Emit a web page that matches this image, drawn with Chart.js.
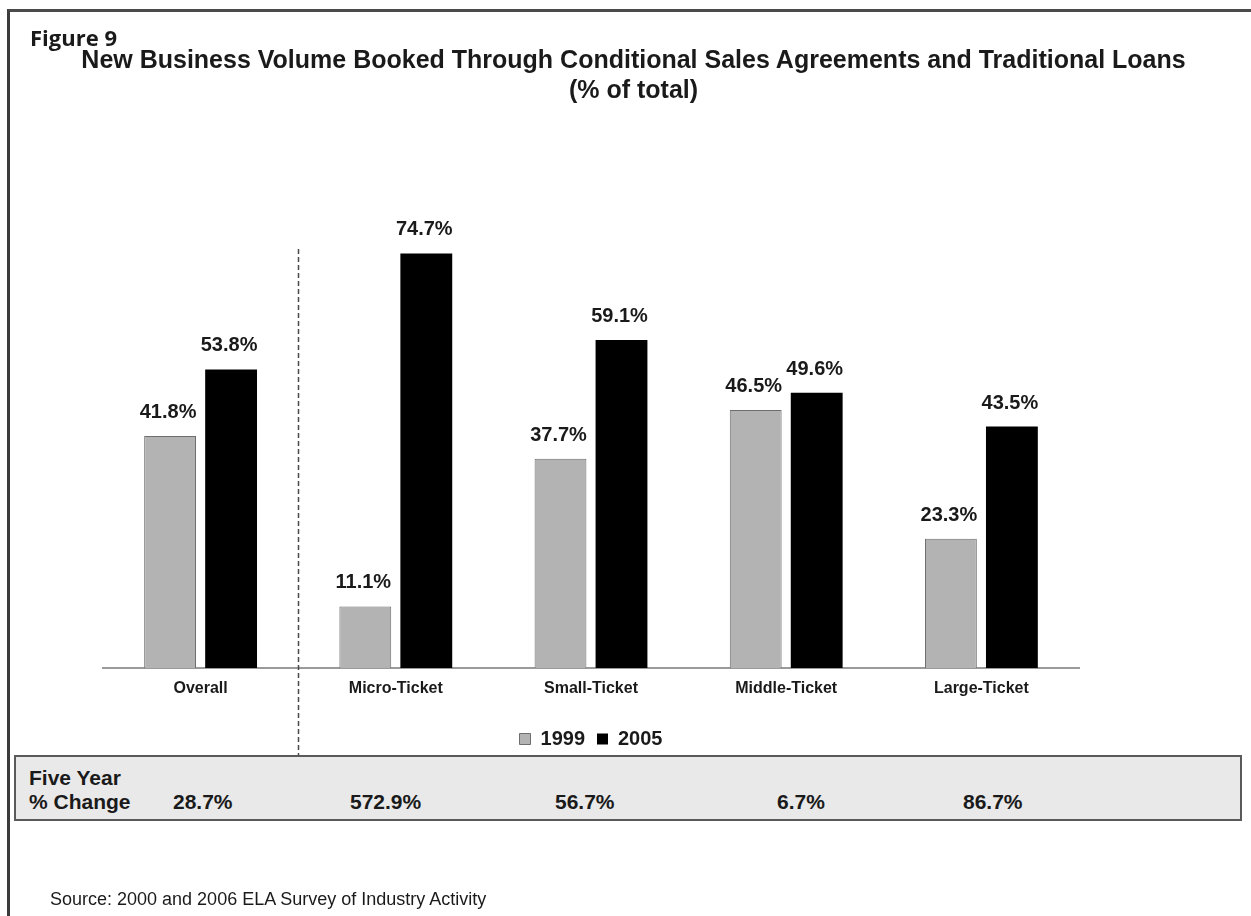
<!DOCTYPE html>
<html>
<head>
<meta charset="utf-8">
<title>Figure 9</title>
<script src="https://cdn.jsdelivr.net/npm/chart.js@4.4.1/dist/chart.umd.min.js"></script>
<style>
  html, body { margin: 0; padding: 0; background: #fff; }
  body { width: 1251px; height: 916px; position: relative; overflow: hidden;
         font-family: "Liberation Sans", Arial, sans-serif; color: #1a1a1a; }
  #frame { position: absolute; left: 7px; top: 9px; width: 1400px; height: 1000px;
           border-left: 3px solid #3c3c3c; border-top: 3px solid #4a4a4a; }
  #chart { position: absolute; left: 0; top: 0; }
  #fig { position: absolute; left: 30px; top: 22px; font-family: "Open Sans", "Noto Sans", sans-serif;
         font-weight: 700; font-size: 22px; line-height: 30px; }
  #title { position: absolute; left: 0; top: 44px; width: 1267px; text-align: center;
           font-weight: bold; font-size: 25px; line-height: 30px; }
  #band { position: absolute; left: 14px; top: 755px; width: 1228px; height: 66px; box-sizing: border-box;
          background: #e9e9e9; border: 2px solid #5a5a5a; }
  #bandHead { position: absolute; left: 29px; top: 766px; font-weight: bold; font-size: 21px; line-height: 24px; }
  .chg { position: absolute; top: 790px; font-weight: bold; font-size: 21px; line-height: 24px; white-space: nowrap; }
  #source { position: absolute; left: 50px; top: 889px; font-size: 18px; line-height: 20px; }
</style>
</head>
<body>
<div id="frame"></div>
<canvas id="chart" width="1251" height="916"></canvas>
<div id="fig">Figure 9</div>
<div id="title">New Business Volume Booked Through Conditional Sales Agreements and Traditional Loans<br>(% of total)</div>
<div id="band"></div>
<div id="bandHead">Five Year<br>% Change</div>
<div id="source">Source: 2000 and 2006 ELA Survey of Industry Activity</div>
<script>
const categories = ["Overall", "Micro-Ticket", "Small-Ticket", "Middle-Ticket", "Large-Ticket"];
const share1999 = [41.8, 11.1, 37.7, 46.5, 23.3];
const share2005 = [53.8, 74.7, 59.1, 49.6, 43.5];
const fiveYearChange = [28.7, 572.9, 56.7, 6.7, 86.7];

// left edge of each "% change" figure in the grey band
const changeLeft = [173, 350, 555, 777, 963];

fiveYearChange.forEach((v, i) => {
  const s = document.createElement("div");
  s.className = "chg";
  s.style.left = changeLeft[i] + "px";
  s.textContent = v.toFixed(1) + "%";
  document.body.appendChild(s);
});

// value above each bar
const barLabels = {
  id: "barLabels",
  afterDatasetsDraw(chart) {
    const ctx = chart.ctx;
    ctx.save();
    ctx.font = "bold 20px 'Liberation Sans', Arial, sans-serif";
    ctx.fillStyle = "#1a1a1a";
    ctx.textAlign = "center";
    ctx.textBaseline = "alphabetic";
    chart.data.datasets.forEach((ds, di) => {
      chart.getDatasetMeta(di).data.forEach((bar, i) => {
        ctx.fillText(ds.data[i].toFixed(1) + "%", bar.x - 2, bar.y - 18);
      });
    });
    ctx.restore();
  }
};

// dashed separator between "Overall" and the ticket sizes
const divider = {
  id: "divider",
  afterDraw(chart) {
    const x = chart.scales.x;
    const y = chart.scales.y;
    const px = Math.round((x.getPixelForValue(0) + x.getPixelForValue(1)) / 2) + 0.5;
    const ctx = chart.ctx;
    ctx.save();
    ctx.strokeStyle = "#4a4a4a";
    ctx.lineWidth = 1.5;
    ctx.setLineDash([5, 3]);
    ctx.beginPath();
    ctx.moveTo(px, y.getPixelForValue(75.5));
    ctx.lineTo(px, 757);
    ctx.stroke();
    ctx.restore();
  }
};

new Chart(document.getElementById("chart"), {
  type: "bar",
  data: {
    labels: categories,
    datasets: [
      { label: "1999", data: share1999, backgroundColor: "#b3b3b3", borderColor: "#6e6e6e", borderWidth: 1,
        categoryPercentage: 0.625, barPercentage: 0.85 },
      { label: "2005", data: share2005, backgroundColor: "#000000", borderColor: "#000000", borderWidth: 0,
        categoryPercentage: 0.625, barPercentage: 0.85 }
    ]
  },
  options: {
    responsive: false,
    animation: false,
    layout: { padding: { left: 103, right: 172, top: 113, bottom: 157 } },
    scales: {
      x: {
        grid: { display: false, drawTicks: false },
        border: { display: true, color: "#9a9a9a", width: 2 },
        ticks: { color: "#1a1a1a", padding: 11, font: { family: "'Liberation Sans', Arial, sans-serif", size: 16, weight: "bold" } },
        afterFit(scale) { scale.height = 49; }
      },
      y: { display: false, min: 0, max: 100 }
    },
    plugins: {
      legend: {
        position: "bottom",
        labels: {
          boxWidth: 11, boxHeight: 11, padding: 12, color: "#1a1a1a",
          font: { family: "'Liberation Sans', Arial, sans-serif", size: 20, weight: "bold" }
        }
      },
      tooltip: { enabled: false }
    }
  },
  plugins: [barLabels, divider]
});
</script>
</body>
</html>
